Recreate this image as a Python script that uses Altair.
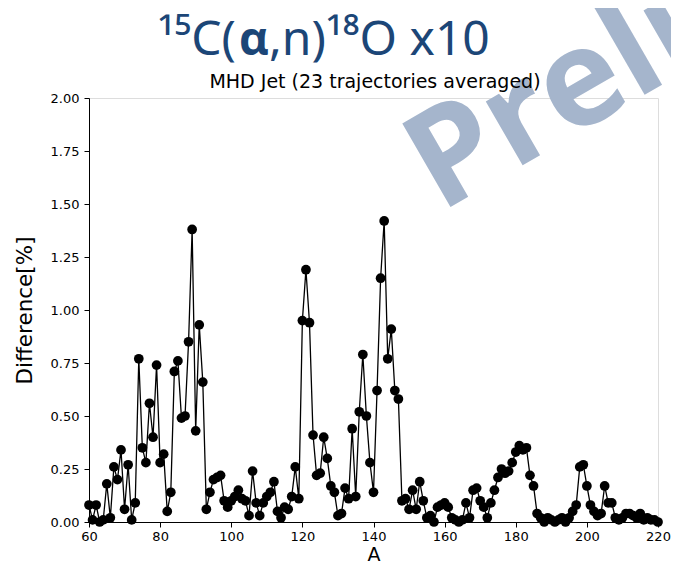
import altair as alt
import pandas as pd

mass = list(range(60, 221))
diff = [
    0.08, 0.01, 0.08, 0.00, 0.01, 0.18, 0.02, 0.26, 0.20, 0.34,   # 60-69
    0.06, 0.27, 0.01, 0.09, 0.77, 0.35, 0.28, 0.56, 0.40, 0.74,   # 70-79
    0.28, 0.32, 0.05, 0.14, 0.71, 0.76, 0.49, 0.50, 0.85, 1.38,   # 80-89
    0.43, 0.93, 0.66, 0.06, 0.14, 0.20, 0.21, 0.22, 0.10, 0.07,   # 90-99
    0.10, 0.12, 0.15, 0.11, 0.10, 0.03, 0.24, 0.09, 0.03, 0.09,   # 100-109
    0.12, 0.14, 0.19, 0.05, 0.02, 0.07, 0.06, 0.12, 0.26, 0.11,   # 110-119
    0.95, 1.19, 0.94, 0.41, 0.22, 0.23, 0.40, 0.30, 0.17, 0.14,   # 120-129
    0.03, 0.04, 0.16, 0.11, 0.44, 0.12, 0.52, 0.79, 0.50, 0.28,   # 130-139
    0.14, 0.62, 1.15, 1.42, 0.77, 0.91, 0.62, 0.58, 0.10, 0.11,   # 140-149
    0.06, 0.15, 0.06, 0.19, 0.10, 0.02, 0.03, 0.00, 0.07, 0.08,   # 150-159
    0.09, 0.07, 0.02, 0.01, 0.00, 0.01, 0.09, 0.02, 0.15, 0.16,   # 160-169
    0.10, 0.07, 0.02, 0.09, 0.15, 0.21, 0.25, 0.23, 0.24, 0.28,   # 170-179
    0.33, 0.36, 0.34, 0.35, 0.22, 0.17, 0.04, 0.02, 0.00, 0.02,   # 180-189
    0.01, 0.00, 0.01, 0.02, 0.00, 0.02, 0.05, 0.08, 0.26, 0.27,   # 190-199
    0.17, 0.08, 0.05, 0.03, 0.04, 0.17, 0.09, 0.09, 0.02, 0.01,   # 200-209
    0.02, 0.04, 0.04, 0.03, 0.02, 0.04, 0.01, 0.02, 0.01, 0.01,   # 210-219
    0.00,                                                         # 220
]
y_ticks = [0.0, 0.25, 0.5, 0.75, 1.0, 1.25, 1.5, 1.75, 2.0]
x_ticks = [60, 80, 100, 120, 140, 160, 180, 200, 220]

title_left = "¹⁵C("
title_alpha = "α"
title_right = ",n)¹⁸O x10"
sub_title = "MHD Jet (23 trajectories averaged)"
watermark = "Preliminary"

df = pd.DataFrame({"A": mass, "diff": diff})

W, H = 569, 424
FONT = "DejaVu Sans"
TITLE_BLUE = "#1c4677"

x_enc = alt.X("A:Q", scale=alt.Scale(domain=[60, 220], nice=False, zero=False),
              axis=alt.Axis(values=x_ticks, title="A", grid=False, labelFontSize=13,
                            titleFontSize=19, titleFontWeight="normal", titlePadding=2,
                            labelFont=FONT, titleFont=FONT, tickSize=5, labelPadding=3,
                            labelFlush=False, domainColor="black", tickColor="black",
                            labelColor="black", titleColor="black"))
y_enc = alt.Y("diff:Q", scale=alt.Scale(domain=[0, 2], nice=False),
              axis=alt.Axis(values=y_ticks, format=".2f", title="Difference[%]", grid=False,
                            labelFontSize=13, titleFontSize=21.5, titleFontWeight="normal",
                            labelFont=FONT, titleFont=FONT, tickSize=5, labelPadding=5,
                            labelFlush=False, titlePadding=14, domainColor="black",
                            tickColor="black", labelColor="black", titleColor="black"))

base = alt.Chart(df)
line = base.mark_line(color="black", strokeWidth=1.3).encode(x=x_enc, y=y_enc)
pts = base.mark_circle(size=95, color="black", opacity=1).encode(x="A:Q", y="diff:Q")


def text_layer(txt, **kw):
    pos = {k: kw.pop(k) for k in ("x", "y")}
    return alt.Chart(pd.DataFrame({"t": [txt]})).mark_text(**kw).encode(
        x=alt.value(pos["x"]), y=alt.value(pos["y"]), text="t:N")


t_left = text_layer(title_left, x=147, y=-43, font="Noto Sans", fontSize=48,
                    color=TITLE_BLUE, align="right", baseline="alphabetic")
t_alpha = text_layer(title_alpha, x=150, y=-43, font="Open Sans", fontSize=46,
                     fontWeight="bold", color=TITLE_BLUE, align="left", baseline="alphabetic")
t_right = text_layer(title_right, x=180, y=-43, font="Noto Sans", fontSize=48,
                     color=TITLE_BLUE, align="left", baseline="alphabetic")
sub_mark = text_layer(sub_title, x=286, y=-10, font=FONT, fontSize=19, color="black",
                      align="center", baseline="alphabetic")
wm = text_layer(watermark, x=351, y=115, font="Open Sans", fontSize=135, fontWeight="bold",
                color="#a5b5cc", align="left", baseline="alphabetic", angle=330)

chart = alt.layer(line, pts, wm, sub_mark, t_left, t_alpha, t_right).properties(
    width=W, height=H,
    autosize=alt.AutoSizeParams(type="none"),
    padding={"left": 81, "top": 90, "right": 13, "bottom": 45},
).configure_view(stroke="black", strokeWidth=1).configure(background="white")

chart.save("out.html", embed_options={"renderer": "svg", "actions": False})
